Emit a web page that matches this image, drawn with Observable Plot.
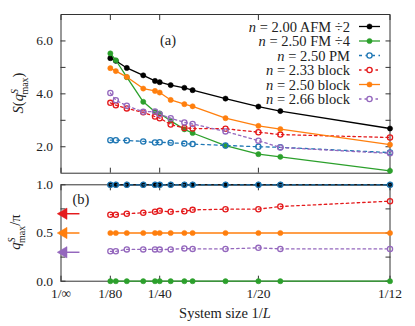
<!DOCTYPE html>
<html><head><meta charset="utf-8">
<script src="https://cdn.jsdelivr.net/npm/d3@7"></script>
<script src="https://cdn.jsdelivr.net/npm/@observablehq/plot@0.6"></script>
<style>
body{margin:0;background:#fff;}
#wrap{position:relative;width:415px;height:326px;}
#wrap svg{position:absolute;left:0;overflow:visible;background:transparent;}
#wrap svg text{font-family:"Liberation Serif","Times New Roman","DejaVu Serif",serif !important;}
</style></head><body><div id="wrap"></div>
<script>
// ---- data ----
const L = [80,72,60,48,42,40,36,32,30,24,20,18,12];
const seriesNames = ["2.00 AFM \u00f72","2.50 FM \u00f74","2.50 PM","2.33 block","2.50 block","2.66 block"];
const seriesColors = ["#000000","#2ca02c","#1f77b4","#e41a1c","#ff7f0e","#9467bd"];
const seriesFilled = [true,true,false,false,true,false];
const seriesDash = [null,null,"3,3.5","2.5,3","none","2.5,3"];
const sAFM = [5.35,5.25,4.98,4.70,4.49,4.44,4.33,4.23,4.14,3.82,3.52,3.35,2.69];
const sFM  = [5.53,5.27,4.63,3.70,3.32,3.26,2.98,2.66,2.52,2.04,1.72,1.62,1.09];
const sPM  = [2.25,2.25,2.24,2.20,2.16,2.17,2.15,2.12,2.10,2.05,2.00,1.98,1.78];
const s233 = [3.66,3.57,3.45,3.30,3.14,3.08,2.84,2.71,2.69,2.68,2.55,2.46,2.35];
const s250 = [4.97,4.86,4.64,4.20,4.11,4.05,3.77,3.61,3.53,3.08,2.79,2.67,2.08];
const s266 = [4.03,3.76,3.55,3.32,3.33,3.23,3.08,2.92,2.86,2.58,2.23,1.97,1.75];
const qAFM = [1,1,1,1,1,1,1,1,1,1,1,1,1];
const qFM  = [0,0,0,0,0,0,0,0,0,0,0,0,0];
const qPM  = [1,1,1,1,1,1,1,1,1,1,1,1,1];
const q233 = [0.69,0.69,0.70,0.71,0.72,0.73,0.72,0.725,0.74,0.747,0.747,0.775,0.83];
const q250 = [0.5,0.5,0.5,0.5,0.5,0.5,0.5,0.5,0.5,0.5,0.5,0.5,0.5];
const q266 = [0.31,0.31,0.33,0.33,0.33,0.328,0.33,0.34,0.335,0.335,0.346,0.335,0.335];
const arrowQ = [0.7,0.5,0.3];
const arrowColors = ["#e41a1c","#ff7f0e","#9467bd"];
const xTickL = [Infinity,80,40,20,12];
const xTickLabels = ["1/\u221e","1/80","1/40","1/20","1/12"];
const topTicks = [2,3,4,5,6];
const topLabels = [2,4,6];
const botTicks = [0,0.25,0.5,0.75,1];
const botLabels = [0,0.5,1];

const S = [sAFM,sFM,sPM,s233,s250,s266];
const Q = [qAFM,qFM,qPM,q233,q250,q266];
const xTicks = xTickL.map(l => 1/l);
const W = 415, ML = 60.5, MR = 25.5;
const font = "Liberation Serif, serif";
const frameColor = "#333";
const FS = 14.5, TFS = 13.5, LFS = 14.5;

function seriesMarks(vals) {
  const marks = [];
  vals.forEach((arr, i) => {
    const data = L.map((l, j) => ({x: 1/l, y: arr[j]}));
    marks.push(Plot.line(data, {x: "x", y: "y", stroke: seriesColors[i], strokeWidth: 1.3,
      strokeDasharray: seriesDash[i] === "none" ? null : seriesDash[i]}));
    marks.push(Plot.dot(data, {x: "x", y: "y", r: 2.6,
      fill: seriesFilled[i] ? seriesColors[i] : "none",
      stroke: seriesColors[i], strokeWidth: seriesFilled[i] ? 0.5 : 1.3}));
  });
  return marks;
}

function axesMarks(yTicks, yLabels, yFmt, showXLabels) {
  const m = [
    Plot.axisX(xTicks, {anchor: "bottom", tickSize: -5, tickFormat: () => "", stroke: frameColor, label: null}),
    Plot.axisX(xTicks, {anchor: "top", tickSize: -5, tickFormat: () => "", stroke: frameColor, label: null}),
    Plot.axisY(yTicks, {anchor: "left", tickSize: -5, tickFormat: () => "", stroke: frameColor, label: null}),
    Plot.axisY(yTicks, {anchor: "right", tickSize: -5, tickFormat: () => "", stroke: frameColor, label: null}),
    Plot.axisY(yLabels, {anchor: "left", tickSize: 0, tickPadding: 8, tickFormat: yFmt, fontSize: TFS, fill: "#222", label: null}),
    Plot.frame({stroke: frameColor, strokeWidth: 1})
  ];
  if (showXLabels) m.push(Plot.axisX(xTicks, {anchor: "bottom", tickSize: 0, tickPadding: 7,
    tickFormat: (d) => xTickLabels[xTicks.indexOf(d)], fontSize: TFS, fill: "#222", label: null}));
  return m;
}

const topPlot = Plot.plot({
  width: W, height: 178, marginTop: 14, marginBottom: 5.3, marginLeft: ML, marginRight: MR,
  style: {fontFamily: font, background: "transparent", overflow: "visible"},
  x: {domain: [0, 1/12], axis: null},
  y: {domain: [1, 7], axis: null},
  marks: [...axesMarks(topTicks, topLabels, d => d.toFixed(1), false), ...seriesMarks(S)]
});
topPlot.style.top = "0px";

const arrows = arrowQ.map((q, i) => ({q, c: arrowColors[i], x1: 0.0048, x2: 0.0009, xh: 0.0007}));
const botPlot = Plot.plot({
  width: W, height: 148, marginTop: 6.3, marginBottom: 45.3, marginLeft: ML, marginRight: MR,
  style: {fontFamily: font, background: "transparent", overflow: "visible"},
  x: {domain: [0, 1/12], axis: null},
  y: {domain: [0, 1], axis: null},
  marks: [
    ...axesMarks(botTicks, botLabels, d => d.toFixed(1), true),
    ...seriesMarks(Q),
    Plot.ruleY(arrows, {y: "q", x1: "x1", x2: "x2", stroke: "c", strokeWidth: 1.5}),
    Plot.dot(arrows, {x: "xh", y: "q", symbol: "triangle", rotate: -90, r: 4.2, fill: "c", stroke: "c", strokeWidth: 0.5})
  ]
});
botPlot.style.top = "178px";

const wrap = document.getElementById("wrap");
wrap.appendChild(topPlot);
wrap.appendChild(botPlot);

// ---- text annotations ----
const ts = d3.select(topPlot);
const lg = ts.append("g").attr("font-size", LFS);
seriesNames.forEach((name, i) => {
  const y = 26.5 + 14.5 * i;
  const t = lg.append("text").attr("x", 350).attr("y", y).attr("dy", "0.35em").attr("text-anchor", "end").attr("fill", "#222");
  t.append("tspan").attr("font-style", "italic").text("n");
  t.append("tspan").text(" = " + name);
  lg.append("line").attr("x1", 359).attr("x2", 380).attr("y1", y).attr("y2", y)
    .attr("stroke", seriesColors[i]).attr("stroke-width", 1.3)
    .attr("stroke-dasharray", seriesDash[i] === "none" || !seriesDash[i] ? null : seriesDash[i]);
  lg.append("circle").attr("cx", 369.5).attr("cy", y).attr("r", 2.6)
    .attr("fill", seriesFilled[i] ? seriesColors[i] : "white").attr("stroke", seriesColors[i])
    .attr("stroke-width", seriesFilled[i] ? 0.5 : 1.3);
});
ts.append("text").attr("x", 168).attr("y", 40).attr("dy", "0.35em").attr("text-anchor", "middle")
  .attr("font-size", FS).attr("fill", "#222").text("(a)");
const yl = ts.append("text").attr("transform", "translate(23,93) rotate(-90)").attr("text-anchor", "middle")
  .attr("font-size", FS).attr("fill", "#222");
yl.append("tspan").attr("font-style", "italic").text("S");
yl.append("tspan").text("(");
yl.append("tspan").attr("font-style", "italic").text("q");
yl.append("tspan").attr("font-style", "italic").attr("font-size", 10).attr("dy", -5.5).text("S");
yl.append("tspan").attr("font-size", 10).attr("dx", -5.5).attr("dy", 10).text("max");
yl.append("tspan").attr("dy", -4.5).text(")");

const bs = d3.select(botPlot);
bs.append("text").attr("x", 81).attr("y", 21).attr("dy", "0.35em").attr("text-anchor", "middle")
  .attr("font-size", FS).attr("fill", "#222").text("(b)");
const yl2 = bs.append("text").attr("transform", "translate(20,54) rotate(-90)").attr("text-anchor", "middle")
  .attr("font-size", FS).attr("fill", "#222");
yl2.append("tspan").attr("font-style", "italic").text("q");
yl2.append("tspan").attr("font-style", "italic").attr("font-size", 10).attr("dy", -5.5).text("S");
yl2.append("tspan").attr("font-size", 10).attr("dx", -5.5).attr("dy", 10).text("max");
yl2.append("tspan").attr("dy", -4.5).text("/\u03c0");
const xl = bs.append("text").attr("x", 225).attr("y", 140).attr("text-anchor", "middle")
  .attr("font-size", FS).attr("fill", "#222");
xl.append("tspan").text("System size 1/");
xl.append("tspan").attr("font-style", "italic").text("L");
</script></body></html>
